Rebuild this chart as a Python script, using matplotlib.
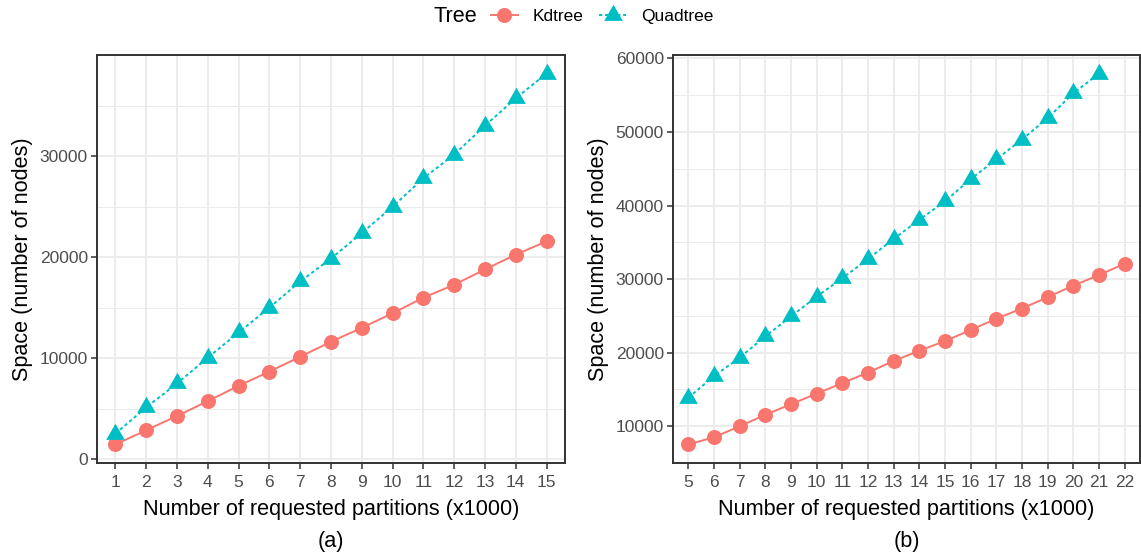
import matplotlib
matplotlib.use("Agg")
import matplotlib.pyplot as plt
from matplotlib.lines import Line2D
from matplotlib.ticker import MultipleLocator, FixedLocator
import numpy as np

plt.rcParams['font.family'] = ['Liberation Sans', 'DejaVu Sans']

# ---------------- data ----------------
partitions_a = list(range(1, 16))
kdtree_a = [1480, 2890, 4300, 5770, 7280, 8690, 10160, 11640, 13020, 14460,
            16000, 17280, 18790, 20260, 21570]
quadtree_a = [2560, 5150, 7510, 10070, 12560, 15020, 17600, 19870, 22390, 25000,
              27810, 30160, 33010, 35720, 38170]

partitions_b_kd = list(range(5, 23))
kdtree_b = [7530, 8520, 10000, 11570, 13000, 14440, 15870, 17300, 18880, 20270,
            21570, 23090, 24620, 26000, 27550, 29120, 30540, 32100]
partitions_b_quad = list(range(5, 22))
quadtree_b = [13900, 16820, 19330, 22240, 24930, 27620, 30130, 32740, 35470, 38070,
              40580, 43590, 46280, 48970, 51880, 55250, 57940]

yticks_a = [0, 10000, 20000, 30000]
yticks_b = [10000, 20000, 30000, 40000, 50000, 60000]
series_names = ["Kdtree", "Quadtree"]
legend_title = "Tree"
xlabel = "Number of requested partitions (x1000)"
ylabel = "Space (number of nodes)"
captions = ["(a)", "(b)"]

# ---------------- style ----------------
KD_COLOR = "#F8766D"
QT_COLOR = "#00BFC4"
GRID = "#EBEBEB"
BORDER = "#333333"
TICK_TXT = "#4D4D4D"
TITLE_FS = 15.6
TICK_FS = 12.5

tri = [(-1.0, -0.577), (1.0, -0.577), (0.0, 1.155), (-1.0, -0.577)]
kd_style = dict(color=KD_COLOR, lw=1.4, ls='-', marker='o', markersize=10.8,
                markeredgewidth=0)
qt_style = dict(color=QT_COLOR, lw=1.4, ls=(0, (1.7, 1.4)), marker=tri,
                markersize=15.5, markeredgewidth=0)

W, H = 1141, 554
fig = plt.figure(figsize=(W / 100, H / 100), dpi=100)

def make_ax(left_px, right_px, top_px, bottom_px):
    return fig.add_axes([left_px / W, 1 - bottom_px / H,
                         (right_px - left_px) / W, (bottom_px - top_px) / H])

ax_a = make_ax(97, 565, 55, 463)
ax_b = make_ax(673, 1140, 55, 463)

def style_axes(ax, xs, yticks, minor_step, caption):
    ax.set_facecolor("white")
    for s in ax.spines.values():
        s.set_color(BORDER)
        s.set_linewidth(1.4)
        s.set_zorder(5)
    ax.set_xticks(xs)
    ax.set_xlim(xs[0] - 0.6, xs[-1] + 0.6)
    ax.yaxis.set_major_locator(FixedLocator(yticks))
    ax.yaxis.set_minor_locator(MultipleLocator(minor_step))
    ax.grid(True, which='major', color=GRID, lw=1.3, zorder=0)
    ax.grid(True, which='minor', axis='y', color=GRID, lw=0.7, zorder=0)
    ax.set_axisbelow(True)
    ax.tick_params(axis='x', which='major', pad=4.5)
    ax.tick_params(axis='y', which='major', pad=2.5)
    ax.tick_params(axis='both', which='major', length=4, width=1.1,
                   color=BORDER, labelsize=TICK_FS, labelcolor=TICK_TXT)
    ax.tick_params(axis='y', which='minor', length=0)
    ax.set_ylabel(ylabel, fontsize=TITLE_FS, color='black', labelpad=5)
    ax.set_xlabel(xlabel + "\n" + caption, fontsize=TITLE_FS, color='black',
                  linespacing=1.7, labelpad=6.5)

# panel (a)
ax_a.plot(partitions_a, kdtree_a, zorder=3, **kd_style)
ax_a.plot(partitions_a, quadtree_a, zorder=3, **qt_style)
ax_a.margins(y=0.05)
style_axes(ax_a, partitions_a, yticks_a, 5000, captions[0])

# panel (b)
ax_b.plot(partitions_b_kd, kdtree_b, zorder=3, **kd_style)
ax_b.plot(partitions_b_quad, quadtree_b, zorder=3, **qt_style)
ax_b.margins(y=0.05)
style_axes(ax_b, partitions_b_kd, yticks_b, 5000, captions[1])

# legend
handles = [Line2D([], [], **kd_style), Line2D([], [], **qt_style)]
fig.legend(handles, series_names, loc='center left',
           bbox_to_anchor=(491 / W, 1 - 16 / H), ncol=2, frameon=False,
           fontsize=TICK_FS, handlelength=1.55, handletextpad=0.85,
           columnspacing=0.9, borderpad=0, borderaxespad=0)
fig.text(455 / W, 1 - 16 / H, legend_title, fontsize=TITLE_FS,
         ha='center', va='center')

fig.savefig("out.png", dpi=100)
